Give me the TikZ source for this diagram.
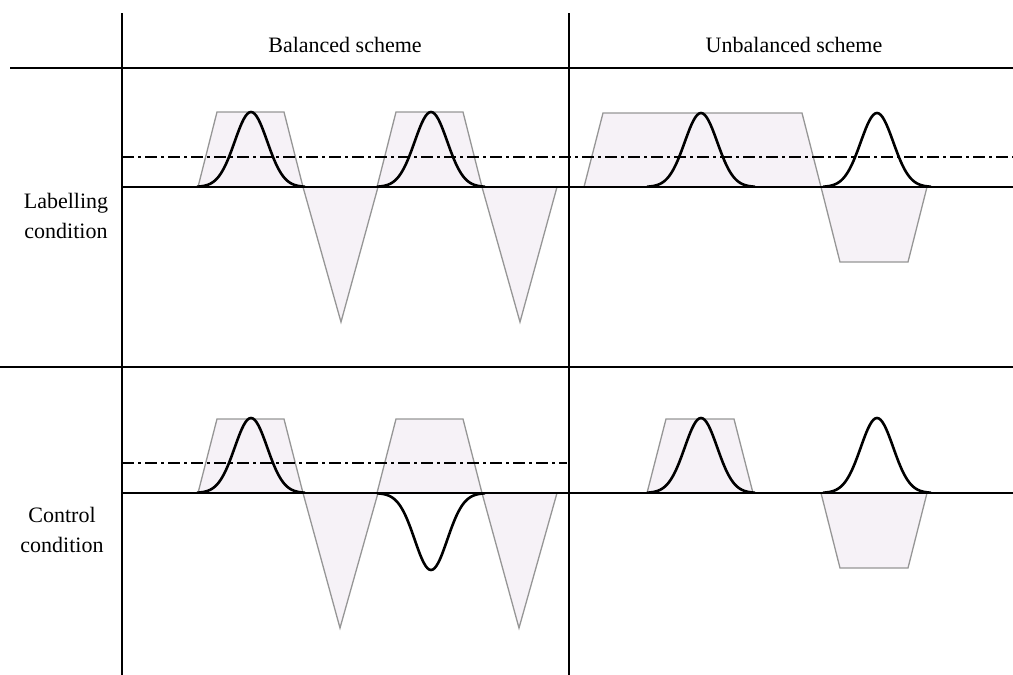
\documentclass[tikz,border=0pt]{standalone}
\usepackage{fontspec}
\setmainfont{Liberation Serif}
\usepackage{tikz}
\usetikzlibrary{positioning}
\definecolor{PulseFill}{RGB}{246, 242, 247}
\definecolor{PulseEdge}{RGB}{150, 150, 150}

% gaussian signal: centre, baseline, amplitude
\newcommand{\gausspulse}[3]{%
  \draw[signal] plot[domain=-54:54, samples=61, smooth]
    ({#1+\x}, {#2-#3*exp(-\x*\x/530)});
}

\begin{document}
\begin{tikzpicture}[x=1pt, y=-1pt,
    grid/.style={line width=1.6pt, black},
    gradient/.style={draw=PulseEdge, fill=PulseFill, line width=1.3pt, line join=miter},
    signal/.style={line width=2.6pt, black},
    threshold/.style={line width=1.4pt, black, dash pattern=on 12pt off 4pt on 3pt off 4pt},
    label/.style={font=\fontsize{22}{30}\selectfont, align=center}]
  \useasboundingbox (0,0) rectangle (1013,675);

  % headers and row names
  \node[label] (hbal) at (345,45) {Balanced scheme};
  \node[label] (hunb) at (794,45) {Unbalanced scheme};
  \node[label] (rlab) at (66,216) {Labelling\\condition};
  \node[label] (rctl) at (62,530) {Control\\condition};

  % labelling condition, balanced
  \foreach \s in {198,377} {
    \filldraw[gradient] (\s,187) -- (\s+19,112) -- (\s+86,112) -- (\s+105,187) -- cycle;
    \filldraw[gradient] (\s+105,187) -- (\s+143,322) -- (\s+180,187) -- cycle;
  }
  % labelling condition, unbalanced
  \filldraw[gradient] (584,187) -- (603,113) -- (802,113) -- (821,187) -- cycle;
  \filldraw[gradient] (821,187) -- (840,262) -- (908,262) -- (927,187) -- cycle;

  % control condition, balanced
  \foreach \s in {198,377} {
    \filldraw[gradient] (\s,493) -- (\s+19,419) -- (\s+86,419) -- (\s+105,493) -- cycle;
    \filldraw[gradient] (\s+105,493) -- (\s+142,628) -- (\s+180,493) -- cycle;
  }
  % control condition, unbalanced
  \filldraw[gradient] (647,493) -- (666,419) -- (734,419) -- (753,493) -- cycle;
  \filldraw[gradient] (821,493) -- (840,568) -- (908,568) -- (927,493) -- cycle;

  % baselines and thresholds
  \draw[grid] (122,187) -- (1013,187);
  \draw[grid] (122,493) -- (1013,493);
  \draw[threshold] (122,157) -- (1013,157);
  \draw[threshold] (122,463) -- (567,463);

  % rf pulses
  \gausspulse{251}{187}{75}
  \gausspulse{431}{187}{75}
  \gausspulse{701}{187}{74}
  \gausspulse{877}{187}{74}
  \gausspulse{251}{493}{75}
  \gausspulse{431}{493}{-77}
  \gausspulse{701}{493}{75}
  \gausspulse{877}{493}{75}

  % table frame
  \draw[grid] (122,13) -- (122,675);
  \draw[grid] (569,13) -- (569,675);
  \draw[grid] (10,68) -- (1013,68);
  \draw[grid] (0,367) -- (1013,367);
\end{tikzpicture}
\end{document}
